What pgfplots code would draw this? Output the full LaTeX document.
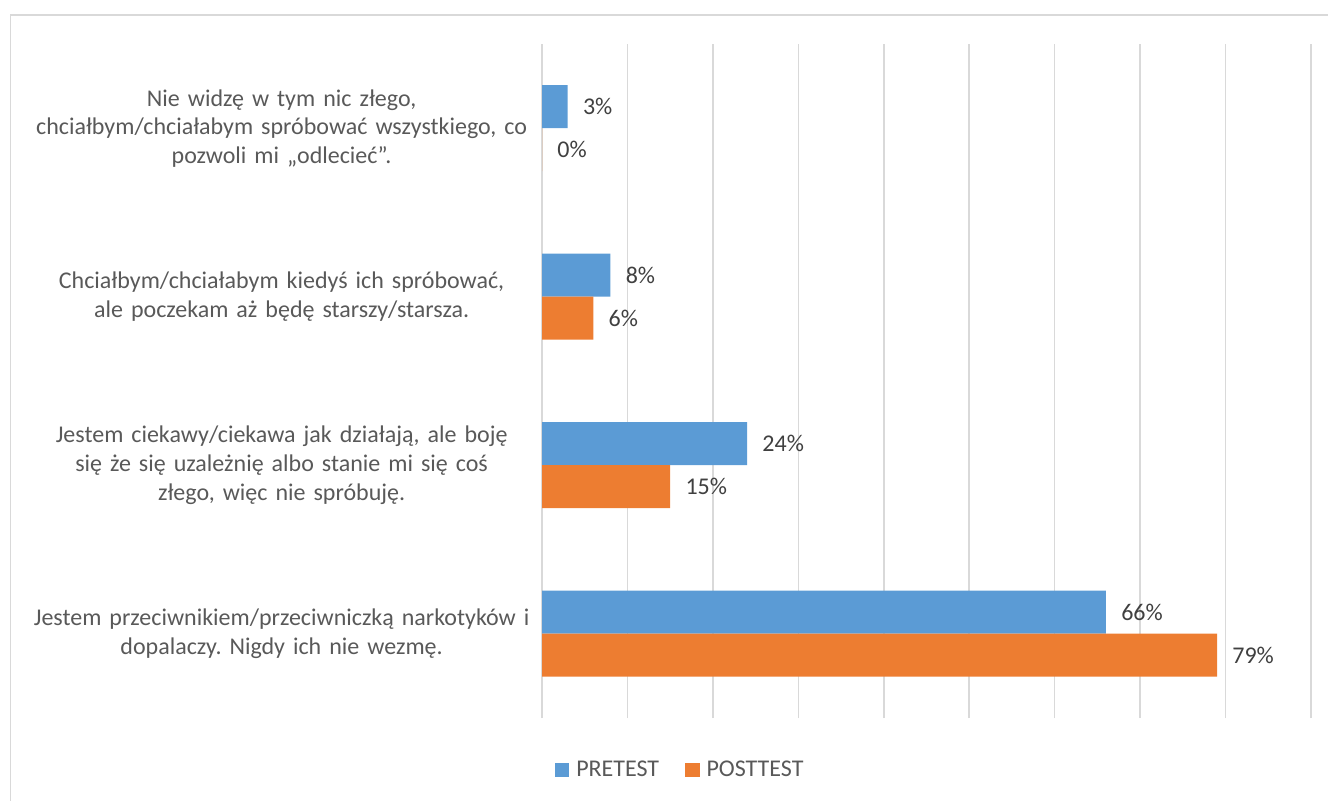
\documentclass[border=0pt]{standalone}
\usepackage{fontspec}
\setmainfont{Carlito}
\usepackage{pgfplots}
\pgfplotsset{compat=1.18}
\definecolor{barblue}{HTML}{5B9BD5}
\definecolor{barorange}{HTML}{ED7D31}
\definecolor{gridgray}{HTML}{D9D9D9}
\definecolor{labelgray}{HTML}{595959}
\definecolor{valgray}{HTML}{404040}
\newcommand{\cf}{\fontsize{12bp}{14.3bp}\selectfont}
\frenchspacing
\begin{document}
\begin{tikzpicture}
\path[use as bounding box] (0,0) rectangle (664bp,400.5bp);
\draw[gridgray, line width=0.75bp] (5.25bp,0) -- (5.25bp,393bp) -- (664bp,393bp);
\begin{axis}[
  at={(271bp,41.5bp)}, anchor=south west,
  scale only axis, width=384.5bp, height=337bp,
  xmin=0, xmax=90, ymin=0.5, ymax=4.5,
  xbar, bar width=21.5bp,
  axis line style={draw=none},
  xtick={0,10,...,90}, xticklabels={},
  xmajorgrids, grid style={gridgray, line width=0.75bp},
  major tick length=0pt,
  ytick={1,2,3,4},
  yticklabels={
    {Jestem przeciwnikiem/przeciwniczką narkotyków i\\dopalaczy. Nigdy ich nie wezmę.},
    {Jestem ciekawy/ciekawa jak działają, ale boję\\się że się uzależnię albo stanie mi się coś\\złego, więc nie spróbuję.},
    {Chciałbym/chciałabym kiedyś ich spróbować,\\ale poczekam aż będę starszy/starsza.},
    {Nie widzę w tym nic złego,\\chciałbym/chciałabym spróbować wszystkiego, co\\pozwoli mi „odlecieć”.}
  },
  yticklabel style={text width=250bp, align=center, inner sep=0pt, xshift=-5bp, font=\cf, text=labelgray},
  clip=false,
  point meta=x,
  /pgf/number format/assume math mode=true,
  nodes near coords={\pgfmathprintnumber{\pgfplotspointmeta}\%},
  nodes near coords style={anchor=west, inner sep=0pt, xshift=7.5bp, font=\cf, text=valgray},
  legend columns=2,
  legend style={at={(0.181,-0.077)}, anchor=center, draw=none, font=\cf, text=labelgray,
    /tikz/every even column/.append style={column sep=11bp}},
  legend image code/.code={\fill[#1] (0bp,-3.6bp) rectangle (7.2bp,3.6bp); \path (8.7bp,0bp);},
]
\addplot[fill=barblue, draw=none, bar shift=10.75bp] coordinates {(66,1) (24,2) (8,3) (3,4)};
\addplot[fill=barorange, draw=none, bar shift=-10.75bp] coordinates {(79,1) (15,2) (6,3) (0,4)};
\legend{PRETEST, POSTTEST}
\end{axis}
\end{tikzpicture}
\end{document}
